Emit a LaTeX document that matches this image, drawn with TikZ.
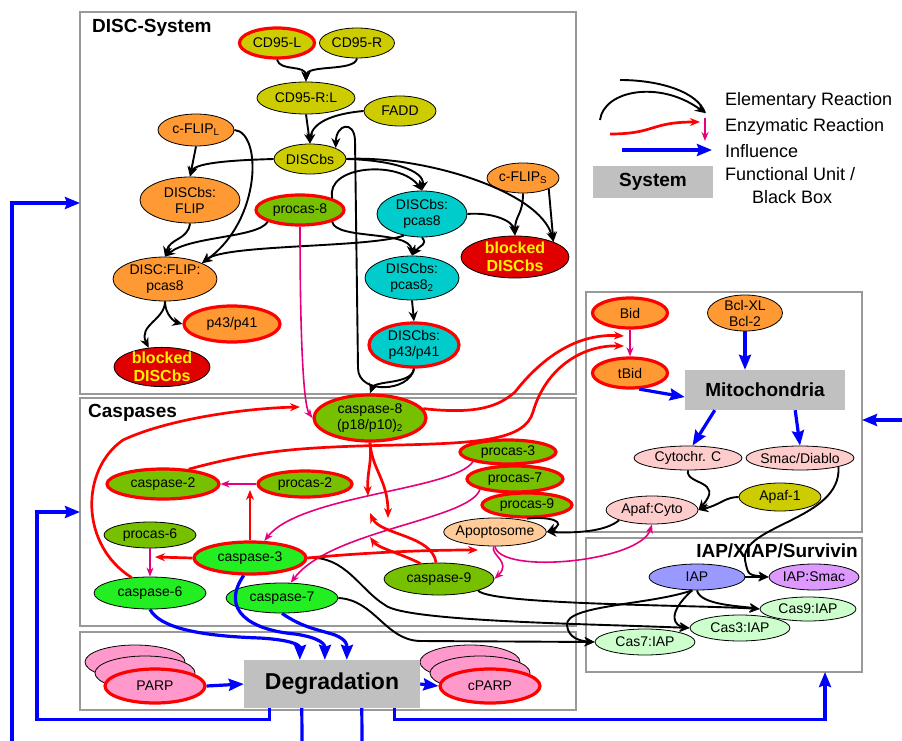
\documentclass[tikz,border=0pt]{standalone}
\usepackage{fontspec}
\setmainfont{Liberation Sans}
\usetikzlibrary{shapes.geometric,arrows.meta}

\definecolor{olivey}{HTML}{CCCC00}
\definecolor{orangef}{HTML}{FF9933}
\definecolor{greenp}{HTML}{77C000}
\definecolor{greenb}{HTML}{22EE22}
\definecolor{cyanf}{HTML}{00CCCC}
\definecolor{redb}{HTML}{E00000}
\definecolor{peach}{HTML}{FFCC99}
\definecolor{pinkc}{HTML}{FFCCCC}
\definecolor{iapblue}{HTML}{9999FF}
\definecolor{violetf}{HTML}{DD99FF}
\definecolor{mint}{HTML}{CCFFCC}
\definecolor{parpc}{HTML}{FF99CC}
\definecolor{magl}{HTML}{E6007E}
\definecolor{unitgray}{HTML}{C0C0C0}
\definecolor{framegray}{HTML}{999999}

\tikzset{
  mol/.style={ellipse, draw, line width=0.8pt, inner xsep=-3pt, inner ysep=-1pt, align=center, font=\fontsize{14}{16}\selectfont},
  act/.style={draw=red, line width=3.2pt},
  blk/.style={mol, fill=redb, text=yellow, font=\fontsize{16}{18}\selectfont\bfseries},
  elem/.style={line width=1.9pt, -{Stealth[length=10pt,width=9pt]}},
  enz/.style={draw=magl, line width=1.6pt, -{Stealth[length=9pt,width=7pt]}},
  cata/.style={draw=red, line width=2.7pt, -{Stealth[length=10pt,width=8pt]}},
  infl/.style={draw=blue, line width=3.2pt, -{Stealth[length=15pt,width=12pt,inset=2pt]}},
  sysframe/.style={draw=framegray, line width=1.8pt, anchor=north west, inner sep=0pt, outer sep=0pt},
  unit/.style={fill=unitgray, inner sep=0pt, font=\fontsize{19}{22}\selectfont\bfseries},
  boxtitle/.style={font=\fontsize{19}{22}\selectfont\bfseries, inner sep=0pt},
  legtext/.style={font=\fontsize{18}{21}\selectfont, inner sep=0pt, anchor=west},
}

\begin{document}
\begin{tikzpicture}[x=1pt, y=-1pt]
\useasboundingbox[fill=white] (0,0) rectangle (902,741);

\node[sysframe, minimum width=496pt, minimum height=382pt] (discbox) at (80,12) {};
\node[sysframe, minimum width=496pt, minimum height=228pt] (casbox) at (80,398) {};
\node[sysframe, minimum width=496pt, minimum height=78pt] (degbox) at (80,632) {};
\node[sysframe, minimum width=276pt, minimum height=240pt] (mitobox) at (586,292) {};
\node[sysframe, minimum width=276pt, minimum height=134pt] (iapbox) at (586,538) {};

\node[boxtitle, anchor=west] (disctitle) at (92,28) {DISC-System};
\node[boxtitle, anchor=west] (castitle) at (88,413) {Caspases};
\node[boxtitle, anchor=east] (iaptitle) at (858,551) {IAP/XIAP/Survivin};

\node[mol, fill=olivey, act, minimum width=75pt, minimum height=30pt] (cd95l) at (277,43) {CD95-L};
\node[mol, fill=olivey, minimum width=75pt, minimum height=30pt] (cd95r) at (357,43) {CD95-R};
\node[mol, fill=olivey, minimum width=98pt, minimum height=32pt] (cd95rl) at (306,98) {CD95-R:L};
\node[mol, fill=olivey, minimum width=72pt, minimum height=30pt] (fadd) at (400,111) {FADD};
\node[mol, fill=olivey, minimum width=72pt, minimum height=30pt] (discbs) at (310,159) {DISCbs};
\node[mol, fill=orangef, minimum width=76pt, minimum height=32pt] (cflipl) at (196,130) {c-FLIP\textsubscript{L}};
\node[mol, fill=orangef, minimum width=100pt, minimum height=46pt] (discflip) at (190,200) {DISCbs:\\FLIP};
\node[mol, fill=greenp, act, minimum width=88pt, minimum height=30pt] (procas8) at (300,210) {procas-8};
\node[mol, fill=cyanf, minimum width=90pt, minimum height=46pt] (discp8) at (422,214) {DISCbs:\\pcas8};
\node[mol, fill=orangef, minimum width=72pt, minimum height=30pt] (cflips) at (523,178) {c-FLIP\textsubscript{S}};
\node[blk, minimum width=108pt, minimum height=42pt] (blockr) at (515,257) {blocked\\DISCbs};
\node[mol, fill=orangef, minimum width=104pt, minimum height=44pt] (dfp8) at (165,279) {DISC:FLIP:\\pcas8};
\node[mol, fill=cyanf, minimum width=94pt, minimum height=44pt] (discp82) at (412,278) {DISCbs:\\pcas8\textsubscript{2}};
\node[mol, fill=orangef, act, minimum width=96pt, minimum height=36pt] (p4341) at (232,324) {p43/p41};
\node[mol, fill=cyanf, act, minimum width=90pt, minimum height=44pt] (discp43) at (414,345) {DISCbs:\\p43/p41};
\node[blk, minimum width=96pt, minimum height=38pt] (blockl) at (162,367) {blocked\\DISCbs};

\node[mol, fill=greenp, act, minimum width=112pt, minimum height=46pt] (cas8) at (370,418) {caspase-8\\(p18/p10)\textsubscript{2}};
\node[mol, fill=greenp, act, minimum width=96pt, minimum height=24pt] (procas3) at (508,452) {procas-3};
\node[mol, fill=greenp, act, minimum width=96pt, minimum height=26pt] (procas7) at (515,479) {procas-7};
\node[mol, fill=greenp, act, minimum width=90pt, minimum height=24pt] (procas9) at (527,505) {procas-9};
\node[mol, fill=greenp, act, minimum width=112pt, minimum height=30pt] (cas2) at (163,484) {caspase-2};
\node[mol, fill=greenp, act, minimum width=94pt, minimum height=26pt] (procas2) at (305,484) {procas-2};
\node[mol, fill=greenp, minimum width=92pt, minimum height=26pt] (procas6) at (150,535) {procas-6};
\node[mol, fill=peach, minimum width=98pt, minimum height=28pt] (apopt) at (495,532) {Apoptosome};
\node[mol, fill=greenb, act, minimum width=112pt, minimum height=32pt] (cas3) at (250,558) {caspase-3};
\node[mol, fill=greenp, minimum width=110pt, minimum height=32pt] (cas9) at (439,579) {caspase-9};
\node[mol, fill=greenb, minimum width=112pt, minimum height=32pt] (cas6) at (150,593) {caspase-6};
\node[mol, fill=greenb, minimum width=112pt, minimum height=30pt] (cas7) at (282,598) {caspase-7};

\node[mol, fill=orangef, act, minimum width=75pt, minimum height=30pt] (bid) at (630,313) {Bid};
\node[mol, fill=orangef, minimum width=75pt, minimum height=36pt] (bcl) at (745,313) {Bcl-XL\\Bcl-2};
\node[mol, fill=orangef, act, minimum width=75pt, minimum height=30pt] (tbid) at (630,373) {tBid};
\node[unit, minimum width=160pt, minimum height=40pt] (mito) at (765,390) {Mitochondria};
\node[mol, fill=pinkc, minimum width=108pt, minimum height=24pt] (cytc) at (688,458) {Cytochr. C};
\node[mol, fill=pinkc, minimum width=108pt, minimum height=24pt] (smac) at (800,458) {Smac/Diablo};
\node[mol, fill=olivey, minimum width=82pt, minimum height=28pt] (apaf1) at (780,497) {Apaf-1};
\node[mol, fill=pinkc, minimum width=92pt, minimum height=28pt] (apafcyto) at (652,510) {Apaf:Cyto};

\node[mol, fill=iapblue, minimum width=96pt, minimum height=26pt] (iap) at (697,577) {IAP};
\node[mol, fill=violetf, minimum width=90pt, minimum height=26pt] (iapsmac) at (814,577) {IAP:Smac};
\node[mol, fill=mint, minimum width=96pt, minimum height=24pt] (cas9iap) at (808,609) {Cas9:IAP};
\node[mol, fill=mint, minimum width=100pt, minimum height=26pt] (cas3iap) at (740,628) {Cas3:IAP};
\node[mol, fill=mint, minimum width=100pt, minimum height=26pt] (cas7iap) at (645,642) {Cas7:IAP};

\node[mol, fill=parpc, minimum width=100pt, minimum height=34pt] (parpb1) at (135,662) {};
\node[mol, fill=parpc, minimum width=100pt, minimum height=34pt] (parpb2) at (145,673) {};
\node[mol, fill=parpc, act, minimum width=100pt, minimum height=34pt] (parp) at (155,686) {PARP};
\node[mol, fill=parpc, minimum width=100pt, minimum height=34pt] (cparpb1) at (470,662) {};
\node[mol, fill=parpc, minimum width=100pt, minimum height=34pt] (cparpb2) at (480,673) {};
\node[mol, fill=parpc, act, minimum width=100pt, minimum height=34pt] (cparp) at (490,686) {cPARP};
\node[unit, font=\fontsize{23}{26}\selectfont\bfseries, minimum width=176pt, minimum height=48pt] (deg) at (332,684) {Degradation};

\node[legtext] (leg1) at (725,101) {Elementary Reaction};
\node[legtext] (leg2) at (725,127) {Enzymatic Reaction};
\node[legtext] (leg3) at (725,151) {Influence};
\node[legtext] (leg4) at (725,174) {Functional Unit /};
\node[legtext] (leg5) at (752,197) {Black Box};
\node[unit, minimum width=120pt, minimum height=32pt] (legsys) at (653,182) {System};

\coordinate (la1) at (600,120);
\coordinate (la2) at (705,113);
\coordinate (la3) at (620,80);
\coordinate (la4) at (610,134);
\coordinate (la5) at (700,122);
\coordinate (la6) at (705,118);
\coordinate (la7) at (705,141);
\coordinate (la8) at (622,150);
\coordinate (la9) at (712,150);
\draw[elem] (la1) .. controls (604,90) and (660,80) .. (la2);
\draw[line width=1.9pt] (la3) .. controls (660,80) and (698,92) .. (la2);
\draw[cata] (la4) .. controls (655,134) and (650,122) .. (la5);
\draw[enz] (la6) -- (la7);
\draw[infl] (la8) -- (la9);

\draw[elem] (cd95l.south) .. controls (280,72) and (306,64) .. (cd95rl.north);
\draw[elem] (cd95r.south) .. controls (355,72) and (306,64) .. (cd95rl.north);
\draw[elem] (cd95rl.south) -- (discbs.north);
\draw[elem] (fadd.west) .. controls (340,113) and (312,120) .. (discbs.north);
\draw[elem] (discp43.south) .. controls (412,385) and (375,380) .. (cas8.north);
\draw[elem] (discp43.south) .. controls (410,392) and (358,395) .. (358,368) -- (355,140) .. controls (354,120) and (336,124) .. (discbs.north east);
\draw[elem] (cflipl.south) -- (discflip.north);
\draw[elem] (discbs.west) .. controls (240,160) and (195,162) .. (discflip.north);
\draw[elem] (discflip.south) .. controls (188,240) and (170,238) .. (dfp8.north);
\draw[elem] (procas8.south west) .. controls (258,238) and (190,236) .. (dfp8.north);
\draw[elem] (discp8.230) .. controls (370,248) and (225,244) .. (dfp8.north east);
\draw[elem] (cflipl.east) .. controls (262,132) and (262,220) .. (dfp8.north east);
\draw[elem] (discbs.east) .. controls (390,160) and (425,170) .. (discp8.north);
\draw[elem] (procas8.north east) .. controls (325,165) and (400,160) .. (discp8.north);
\draw[elem] (discbs.east) .. controls (420,155) and (540,190) .. (blockr.north east);
\draw[elem] (cflips.south east) -- (blockr.north east);
\draw[elem] (cflips.south) .. controls (523,215) and (515,215) .. (blockr.north);
\draw[elem] (discp8.east) .. controls (490,212) and (513,220) .. (blockr.north);
\draw[elem] (discp8.south) .. controls (428,245) and (420,245) .. (discp82.north);
\draw[elem] (procas8.south east) .. controls (335,240) and (410,230) .. (discp82.north);
\draw[elem] (discp82.south) -- (discp43.north);
\draw[elem] (dfp8.south) .. controls (165,315) and (175,322) .. (p4341.west);
\draw[elem] (dfp8.south) .. controls (165,320) and (138,325) .. (blockl.125);

\draw[elem] (cytc.south) .. controls (685,485) and (725,480) .. (apafcyto.east);
\draw[elem] (apaf1.west) .. controls (725,497) and (720,505) .. (apafcyto.east);
\draw[elem] (apafcyto.south west) .. controls (605,532) and (575,533) .. (apopt.east);
\draw[elem] (procas9.south) .. controls (550,516) and (568,522) .. (apopt.east);
\draw[elem] (iap.east) -- (iapsmac.west);
\draw[elem] (smac.south east) .. controls (842,520) and (740,525) .. (745,560) .. controls (748,575) .. (iapsmac.west);
\draw[elem] (cas9.south east) .. controls (490,605) and (700,605) .. (cas9iap.west);
\draw[elem] (iap.south) .. controls (700,605) and (740,606) .. (cas9iap.west);
\draw[elem] (cas3.east) .. controls (345,555) and (360,590) .. (385,605) .. controls (405,622) and (600,624) .. (cas3iap.west);
\draw[elem] (iap.250) .. controls (665,615) and (675,626) .. (cas3iap.west);
\draw[elem] (cas7.east) .. controls (375,600) and (385,640) .. (420,641) -- (cas7iap.west);
\draw[elem] (iap.250) .. controls (650,605) and (565,605) .. (567,625) .. controls (568,638) and (580,641) .. (cas7iap.west);

\draw[enz] (procas8.south) .. controls (300,330) and (303,405) .. (cas8.west);
\draw[enz] (bid.south) -- (tbid.north);
\draw[enz] (procas2.west) -- (cas2.east);
\draw[enz] (procas6.south) -- (cas6.north);
\draw[enz] (procas3.south west) .. controls (455,490) and (300,495) .. (cas3.50);
\draw[enz] (procas7.south west) .. controls (470,520) and (330,530) .. (cas7.60);
\draw[enz] (apopt.265) .. controls (490,555) and (512,562) .. (cas9.east);
\draw[enz] (apopt.south) .. controls (500,575) and (640,562) .. (apafcyto.south);

\coordinate (bidmid1) at (624,336);
\coordinate (bidmid2) at (624,346);
\coordinate (p8mid) at (300,407);
\coordinate (p3mid) at (368,496);
\coordinate (p7mid) at (388,518);
\coordinate (p9a) at (370,513);
\coordinate (p9b) at (370,537);
\coordinate (p2mid) at (250,490);
\coordinate (p6mid) at (155,557);
\coordinate (c3r) at (478,550);
\draw[cata] (cas8.10) .. controls (480,415) and (500,405) .. (515,392) .. controls (540,360) and (575,333) .. (bidmid1);
\draw[cata] (cas2.30) .. controls (260,450) and (300,447) .. (400,445) .. controls (480,443) and (525,440) .. (533,412) .. controls (545,370) and (580,345) .. (bidmid2);
\draw[cata] (cas6.140) .. controls (80,545) and (80,470) .. (123,440) .. controls (170,418) and (250,408) .. (p8mid);
\draw[cata] (cas8.south) .. controls (372,465) and (367,470) .. (p3mid);
\draw[cata] (cas8.south) .. controls (372,470) and (388,480) .. (p7mid);
\draw[cata] (cas9.100) .. controls (432,535) and (380,535) .. (p9a);
\draw[cata] (cas9.140) .. controls (397,552) and (378,548) .. (p9b);
\draw[cata] (cas3.north) -- (p2mid);
\draw[cata] (cas3.west) -- (p6mid);
\draw[cata] (cas3.east) .. controls (360,553) and (420,550) .. (c3r);

\coordinate (edgeL) at (12,741);
\coordinate (edgeA) at (302,741);
\coordinate (edgeB) at (362,741);
\coordinate (edgeR) at (902,420);
\draw[infl] (cas6.south) .. controls (160,628) and (200,636) .. (260,638) .. controls (292,640) and (300,645) .. ([xshift=56pt]deg.north west);
\draw[infl] (cas3.250) .. controls (220,610) and (250,630) .. (295,634) .. controls (322,638) and (325,645) .. ([xshift=81pt]deg.north west);
\draw[infl] (cas7.south) .. controls (303,628) and (320,630) .. (335,635) .. controls (347,640) and (347,645) .. ([xshift=103pt]deg.north west);
\draw[infl] (parp.east) -- (deg.west);
\draw[infl] (deg.east) -- (cparp.west);
\draw[infl] (tbid.-60) -- (mito.185);
\draw[infl] (bcl.south) -- (bcl.south |- mito.north);
\draw[infl] ([xshift=30pt]mito.south west) -- (cytc.70);
\draw[infl] ([xshift=-50pt]mito.south east) -- (smac.north);
\draw[infl] ([xshift=26pt]deg.south west) -- ++(0,11) -| ([xshift=-43pt]casbox.west) -- (casbox.west);
\draw[infl] (edgeL) |- (discbox.west);
\draw[draw=blue, line width=3.2pt] ([xshift=58pt]deg.south west) -- (edgeA);
\draw[draw=blue, line width=3.2pt] ([xshift=118pt]deg.south west) -- (edgeB);
\draw[infl] ([xshift=151pt]deg.south west) -- ++(0,11) -| ([xshift=-37pt]iapbox.south east);
\draw[infl] (edgeR) -- (edgeR -| mitobox.east);
\end{tikzpicture}
\end{document}
